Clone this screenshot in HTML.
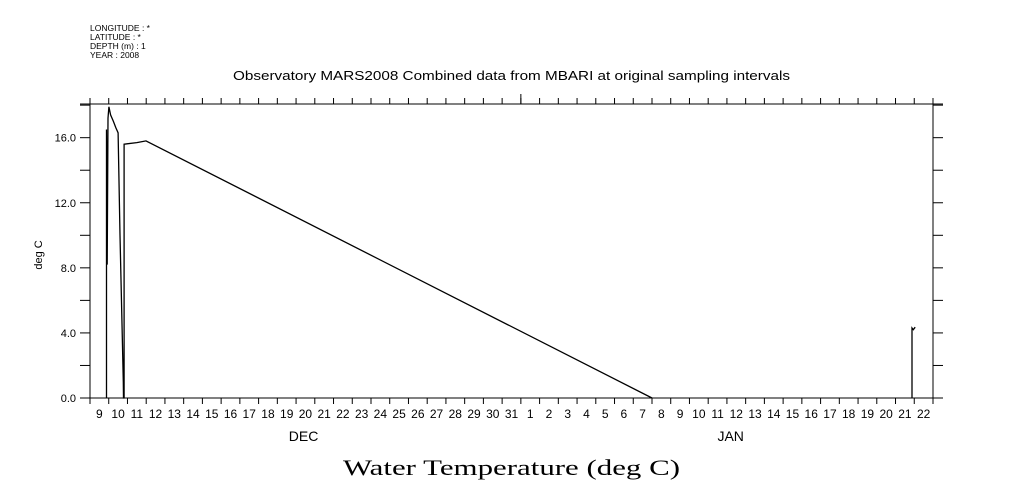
<!DOCTYPE html>
<html><head><meta charset="utf-8"><style>
body{margin:0;background:#fff;width:1009px;height:504px;overflow:hidden}
svg{display:block;font-family:"Liberation Sans",sans-serif}
</style></head><body>
<svg id="chart" width="1009" height="504" viewBox="0 0 1009 504">
<g font-size="8.5" fill="#000">
<text x="90" y="31">LONGITUDE : *</text>
<text x="90" y="40">LATITUDE : *</text>
<text x="90" y="49">DEPTH (m) : 1</text>
<text x="90" y="58">YEAR : 2008</text>
</g>
<text x="233" y="80" font-size="13" textLength="557" lengthAdjust="spacingAndGlyphs">Observatory MARS2008 Combined data from MBARI at original sampling intervals</text>
<text transform="translate(42,255) rotate(-90)" font-size="11" text-anchor="middle">deg C</text>
<text x="343" y="475" font-size="22" textLength="337" lengthAdjust="spacingAndGlyphs" font-family="Liberation Serif,serif">Water Temperature (deg C)</text>
<g id="axes"></g>
<g id="marks"></g>
</svg>
<script>
const yTicks=[0,2,4,6,8,10,12,14,16,18];
const yLabels=["0.0","4.0","8.0","12.0","16.0"];
const yLabelValues=[0,4,8,12,16];
const dayLabels=["9","10","11","12","13","14","15","16","17","18","19","20","21","22","23","24","25","26","27","28","29","30","31","1","2","3","4","5","6","7","8","9","10","11","12","13","14","15","16","17","18","19","20","21","22"];
const monthLabels=["DEC","JAN"];
const monthDays=[11.4,34.2];
// days since 9 Dec 00:00
const seriesDays=[0.88,0.88,0.92,0.96,1.01,1.1,1.25,1.38,1.5,1.6,1.78,1.79,1.82,1.82,2.5,2.99,30.0,null,43.88,43.88,43.95,44.05];
const seriesTemp=[0,16.5,8.2,17.2,17.9,17.4,17.0,16.6,16.3,10.0,1.0,0,0,15.6,15.7,15.8,0,null,0,4.3,4.2,4.35];
const NS="http://www.w3.org/2000/svg";
const L=90,PX=18.733,Y0=398,PY=16.27,R=933,T=104;
const xs=d=>L+PX*d, ys=v=>Y0-PY*v;
const ax=document.getElementById('axes'),mk=document.getElementById('marks');
function el(t,a,p){const e=document.createElementNS(NS,t);for(const k in a)e.setAttribute(k,a[k]);p.appendChild(e);return e;}
const st={stroke:"#000","stroke-width":1,fill:"none"};
let e;
e=el('line',Object.assign({x1:80,y1:Y0,x2:943,y2:Y0},st),ax);


e=el('line',Object.assign({x1:80,y1:T,x2:943,y2:T},st),ax);


e=el('line',Object.assign({x1:90,y1:T,x2:90,y2:Y0+6},st),ax);


e=el('line',Object.assign({x1:R,y1:T,x2:R,y2:Y0+6},st),ax);


yTicks.forEach(v=>{const y=ys(v);
 e=el('line',Object.assign({x1:80,y1:y,x2:90,y2:y},st),ax);
 
 
 e=el('line',Object.assign({x1:R,y1:y,x2:943,y2:y},st),ax);
 
 });
yLabelValues.forEach((v,i)=>{e=el('text',{x:76,y:ys(v)+4,"font-size":11,"text-anchor":"end"},ax);e.textContent=yLabels[i];
 
 });
for(let i=0;i<=dayLabels.length;i++){const x=xs(i);
 e=el('line',Object.assign({x1:x,y1:Y0,x2:x,y2:Y0+6},st),ax);
 
 
 e=el('line',Object.assign({x1:x,y1:T,x2:x,y2:T-6},st),ax);
 
 }
dayLabels.forEach((lab,i)=>{
 e=el('text',{x:xs(i+0.5),y:Y0+20,"font-size":12,"text-anchor":"middle"},ax);e.textContent=lab;
 
 });
e=el('line',Object.assign({x1:xs(23),y1:T,x2:xs(23),y2:T-10},st),ax);


monthLabels.forEach((m,i)=>{e=el('text',{x:xs(monthDays[i]),y:441,"font-size":14,"text-anchor":"middle"},ax);e.textContent=m;
 
 });
let d="",pen=false;
seriesDays.forEach((t,i)=>{if(t===null){pen=false;return;}d+=(pen?"L":"M")+xs(t).toFixed(1)+","+ys(seriesTemp[i]).toFixed(1);pen=true;});
e=el('path',{d:d,stroke:"#000","stroke-width":1.3,fill:"none"},mk);


</script>
</body></html>
